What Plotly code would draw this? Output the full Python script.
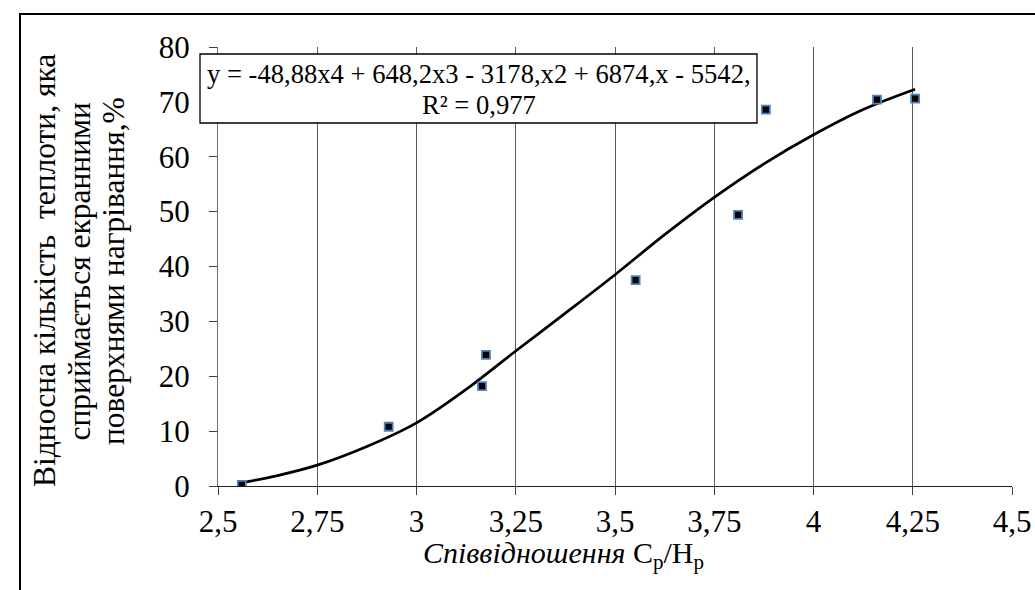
import plotly.graph_objects as go

# Ratio C_p/H_p and relative heat absorbed by the screen heating surfaces, %
ratio = [2.56, 2.93, 3.165, 3.175, 3.552, 3.81, 3.88, 4.16, 4.256]
heat_share = [0.2, 10.8, 18.2, 23.9, 37.5, 49.4, 68.6, 70.4, 70.6]

# 4th-order polynomial trend line, sampled along its length
trend_x = [2.56, 2.65, 2.75, 2.875, 3.0, 3.125, 3.25, 3.375, 3.5,
           3.625, 3.75, 3.875, 4.0, 4.125, 4.256]
trend_y = [0.6, 1.9, 3.8, 7.2, 11.5, 17.6, 24.6, 31.5, 38.5,
           45.8, 52.6, 58.7, 64.0, 68.6, 72.3]

x_tick_vals = [2.5, 2.75, 3.0, 3.25, 3.5, 3.75, 4.0, 4.25, 4.5]
x_tick_text = ["2,5", "2,75", "3", "3,25", "3,5", "3,75", "4", "4,25", "4,5"]
y_tick_vals = [0, 10, 20, 30, 40, 50, 60, 70, 80]

equation_lines = ["y = -48,88x4 + 648,2x3 - 3178,x2 + 6874,x - 5542,",
                  "R² = 0,977"]
y_title_lines = ["Відносна кількість  теплоти, яка",
                 "сприймається екранними",
                 "поверхнями нагрівання,%"]
x_title = "<i>Співвідношення</i> C<sub>p</sub>/H<sub>p</sub>"

FONT = "Liberation Serif, Times New Roman, serif"

# plot-area geometry in pixels
W, H = 1035, 590
ML, MR, MT, MB = 218, 23, 47, 104
PW, PH = W - ML - MR, H - MT - MB


def px(xp):
    return (xp - ML) / PW


def py(yp):
    return 1 - (yp - MT) / PH


fig = go.Figure()
fig.add_trace(go.Scatter(
    x=trend_x, y=trend_y, mode="lines",
    line=dict(color="black", width=2.7, shape="spline", smoothing=1.0),
    hoverinfo="skip", showlegend=False,
))
fig.add_trace(go.Scatter(
    x=ratio, y=heat_share, mode="markers",
    marker=dict(symbol="square", size=8, color="black",
                line=dict(color="#4F81BD", width=1.8)),
    showlegend=False,
))

annotations = []
# equation label: two centred lines inside a framed box
for i, line in enumerate(equation_lines):
    annotations.append(dict(
        text=line, xref="paper", yref="paper",
        x=px(478.5), y=py(74 + 31 * i), xanchor="center", yanchor="middle",
        showarrow=False, font=dict(size=26.6, family=FONT, color="black"),
    ))
# vertical axis title, three rotated lines
for i, line in enumerate(y_title_lines):
    annotations.append(dict(
        text=line, xref="paper", yref="paper",
        x=px(44 + 34.5 * i), y=py(271), xanchor="center", yanchor="middle",
        textangle=-90, showarrow=False,
        font=dict(size=31.5, family=FONT, color="black"),
    ))
annotations.append(dict(
    text=x_title, xref="paper", yref="paper",
    x=px(563), y=py(555), xanchor="center", yanchor="middle",
    showarrow=False, font=dict(size=30, family=FONT, color="black"),
))

fig.update_layout(
    width=W, height=H,
    margin=dict(l=ML, r=MR, t=MT, b=MB, autoexpand=False),
    paper_bgcolor="white", plot_bgcolor="white",
    font=dict(family=FONT, color="black"),
    xaxis=dict(
        range=[2.5, 4.5], tickvals=x_tick_vals, ticktext=x_tick_text,
        showgrid=True, gridcolor="#5c5c5c", gridwidth=1,
        showline=True, linecolor="#202020", linewidth=1,
        ticks="outside", ticklen=8, tickcolor="#404040",
        tickfont=dict(size=31, family=FONT),
        zeroline=False,
    ),
    yaxis=dict(
        range=[0, 80], tickvals=y_tick_vals,
        showgrid=False,
        showline=True, linecolor="#707070", linewidth=1,
        ticks="outside", ticklen=8, tickcolor="#404040",
        tickfont=dict(size=31, family=FONT),
        ticklabelstandoff=13,
        zeroline=False,
    ),
    annotations=annotations,
    shapes=[
        # equation frame
        dict(type="rect", xref="paper", yref="paper",
             x0=px(200), x1=px(757), y0=py(123), y1=py(54),
             line=dict(color="black", width=1.3), fillcolor="white",
             layer="above"),
        # outer chart border
        dict(type="rect", xref="paper", yref="paper",
             x0=px(20), x1=px(1045), y0=py(600), y1=py(14),
             line=dict(color="black", width=2), fillcolor="rgba(0,0,0,0)",
             layer="above"),
    ],
)

fig.write_html("out.html")
